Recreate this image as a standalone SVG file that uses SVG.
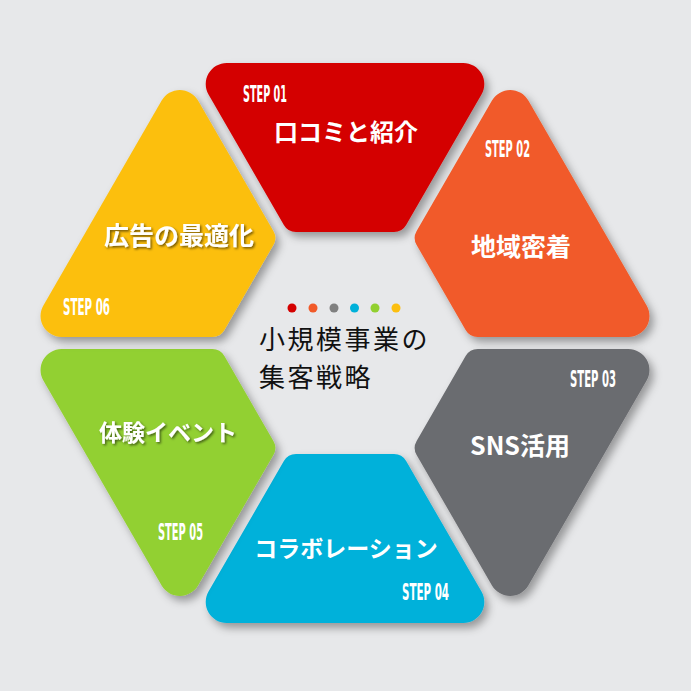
<svg xmlns="http://www.w3.org/2000/svg" xmlns:xlink="http://www.w3.org/1999/xlink" width="691" height="691" viewBox="0 0 691 691">
<style>
.step{font-family:'Liberation Sans Narrow','DejaVu Sans Condensed','Liberation Sans',sans-serif;font-weight:bold;font-size:22.5px;fill:#ffffff}
.lbl{font-family:'Noto Sans CJK JP','Noto Sans',sans-serif;font-weight:bold;fill:#ffffff;text-anchor:middle}
.title{font-family:'Noto Sans CJK JP','Noto Sans',sans-serif;font-weight:normal;font-size:26px;letter-spacing:2.5px;fill:#111111}
</style>
<defs>
<filter id="sh" x="-20%" y="-20%" width="150%" height="150%">
<feDropShadow dx="4" dy="5" stdDeviation="4" flood-color="#000" flood-opacity="0.35"/>
</filter>
<filter id="tsh" x="-10%" y="-30%" width="130%" height="170%">
<feDropShadow dx="1.5" dy="1.5" stdDeviation="1" flood-color="#000" flood-opacity="0.55"/>
</filter>
<path id="seg" d="M-118.29,-280 L118.29,-280 A21,21 0 0 1 136.47,-248.5 L61.14,-118.01 A14,14 0 0 1 48.99,-111 L-48.99,-111 A14,14 0 0 1 -61.14,-118.01 L-136.47,-248.5 A21,21 0 0 1 -118.29,-280 Z"/>
</defs>
<rect x="0" y="0" width="691" height="691" fill="#e7e8ea"/>

<g id="step01">
<g filter="url(#sh)"><use xlink:href="#seg" transform="translate(345,343)" fill="#d40000"/></g>
<text class="step" x="243" y="102" textLength="44" lengthAdjust="spacingAndGlyphs">STEP 01</text>
<text class="lbl" x="346" y="141" font-size="24">口コミと紹介</text>
</g>

<g id="step02">
<g filter="url(#sh)"><use xlink:href="#seg" transform="translate(345,343) rotate(60)" fill="#f15a29"/></g>
<text class="step" x="485" y="157" textLength="45" lengthAdjust="spacingAndGlyphs">STEP 02</text>
<text class="lbl" x="521" y="256" font-size="25">地域密着</text>
</g>

<g id="step03">
<g filter="url(#sh)"><use xlink:href="#seg" transform="translate(345,343) rotate(120)" fill="#6b6c70"/></g>
<text class="step" x="570" y="387" textLength="46" lengthAdjust="spacingAndGlyphs">STEP 03</text>
<text class="lbl" x="520" y="455" font-size="25">SNS活用</text>
</g>

<g id="step04">
<g filter="url(#sh)"><use xlink:href="#seg" transform="translate(345,343) rotate(180)" fill="#00b1da"/></g>
<text class="step" x="402" y="600" textLength="47" lengthAdjust="spacingAndGlyphs">STEP 04</text>
<text class="lbl" x="346" y="557" font-size="23">コラボレーション</text>
</g>

<g id="step05">
<g filter="url(#sh)"><use xlink:href="#seg" transform="translate(345,343) rotate(240)" fill="#92d030"/></g>
<text class="step" x="158" y="540" textLength="45" lengthAdjust="spacingAndGlyphs">STEP 05</text>
<text class="lbl" x="168" y="441" font-size="23" filter="url(#tsh)">体験イベント</text>
</g>

<g id="step06">
<g filter="url(#sh)"><use xlink:href="#seg" transform="translate(345,343) rotate(300)" fill="#fcbf10"/></g>
<text class="step" x="63" y="315" textLength="47" lengthAdjust="spacingAndGlyphs">STEP 06</text>
<text class="lbl" x="179" y="245" font-size="25" filter="url(#tsh)">広告の最適化</text>
</g>

<g id="center">
<circle cx="292" cy="308" r="4.5" fill="#d40000"/>
<circle cx="313" cy="308" r="4.5" fill="#f15a29"/>
<circle cx="334" cy="308" r="4.5" fill="#808080"/>
<circle cx="354.5" cy="308" r="4.5" fill="#00b1da"/>
<circle cx="375" cy="308" r="4.5" fill="#92d030"/>
<circle cx="396" cy="308" r="4.5" fill="#fcbf10"/>
<text class="title"><tspan x="259" y="349">小規模事業の</tspan><tspan x="259" y="387">集客戦略</tspan></text>
</g>
</svg>
